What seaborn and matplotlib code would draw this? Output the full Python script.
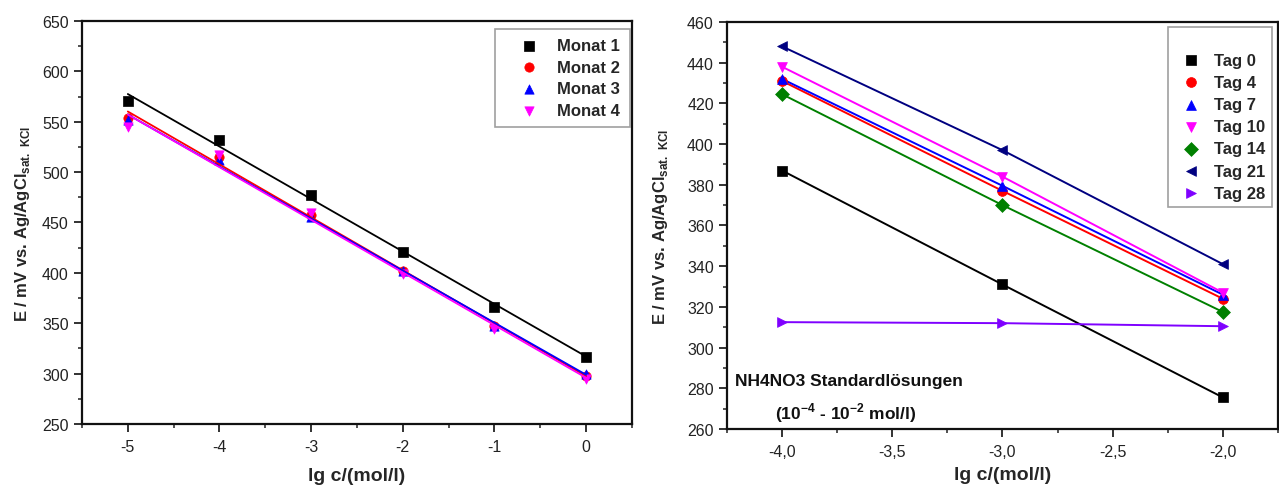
import numpy as np
import pandas as pd
import matplotlib
matplotlib.use("Agg")
import matplotlib.pyplot as plt
import seaborn as sns
from matplotlib.ticker import MultipleLocator

# ---------------- data: left panel ----------------
lg_c_left = [-5, -4, -3, -2, -1, 0]
monat_1 = [570.7, 531.7, 477.4, 421.2, 365.7, 316.8]
monat_2 = [554.0, 515.0, 457.0, 402.0, 347.0, 298.0]
monat_3 = [552.0, 512.0, 455.0, 402.0, 347.0, 300.0]
monat_4 = [545.0, 517.0, 459.0, 399.0, 344.0, 295.0]
monat_labels = ["Monat 1", "Monat 2", "Monat 3", "Monat 4"]
left_xticks = [-5, -4, -3, -2, -1, 0]
left_xticklabels = ["-5", "-4", "-3", "-2", "-1", "0"]
left_yticks = [250, 300, 350, 400, 450, 500, 550, 600, 650]

# ---------------- data: right panel ----------------
lg_c_right = [-4.0, -3.0, -2.0]
tag_0 = [387.0, 331.0, 275.5]
tag_4 = [431.0, 377.0, 324.0]
tag_7 = [432.0, 379.5, 326.0]
tag_10 = [438.0, 384.0, 327.0]
tag_14 = [424.5, 370.0, 317.5]
tag_21 = [448.0, 397.0, 341.0]
tag_28 = [312.5, 312.0, 310.5]
tag_labels = ["Tag 0", "Tag 4", "Tag 7", "Tag 10", "Tag 14", "Tag 21", "Tag 28"]
right_xticks = [-4.0, -3.5, -3.0, -2.5, -2.0]
right_xticklabels = ["-4,0", "-3,5", "-3,0", "-2,5", "-2,0"]
right_yticks = [260, 280, 300, 320, 340, 360, 380, 400, 420, 440, 460]

x_label = "lg c/(mol/l)"
y_label = r"E / mV vs. Ag/AgCl$_{\mathbf{sat.\ KCl}}$"
note_1 = "NH4NO3 Standardlösungen"
note_2 = r"(10$^{\mathbf{-4}}$ - 10$^{\mathbf{-2}}$ mol/l)"

# ---------------- style ----------------
sns.set_style("ticks")
plt.rcParams["font.family"] = ["Liberation Sans", "DejaVu Sans"]
plt.rcParams["mathtext.fontset"] = "custom"
plt.rcParams["mathtext.bf"] = "Liberation Sans:bold"
plt.rcParams["mathtext.rm"] = "Liberation Sans"
plt.rcParams["axes.unicode_minus"] = False

left_colors = ["#000000", "#ff0000", "#0000ff", "#ff00ff"]
left_markers = ["s", "o", "^", "v"]
right_colors = ["#000000", "#ff0000", "#0000ff", "#ff00ff", "#008000", "#000080", "#7f00ff"]
right_markers = ["s", "o", "^", "v", "D", "<", ">"]

fig = plt.figure(figsize=(12.79, 4.89), dpi=100)
ax1 = fig.add_axes([0.0641, 0.1309, 0.4300, 0.8241])
ax2 = fig.add_axes([0.5684, 0.1207, 0.4308, 0.8323])

tick_col = "#222222"


def style_axes(ax):
    for sp in ax.spines.values():
        sp.set_visible(True)
        sp.set_linewidth(1.6)
        sp.set_color("#111111")
    ax.tick_params(axis="both", which="major", direction="out", length=6, width=1.3,
                   labelsize=11.5, colors=tick_col, top=False, right=False)
    ax.tick_params(axis="x", which="major", pad=5)
    ax.tick_params(axis="y", which="major", pad=3.5)
    ax.tick_params(axis="both", which="minor", direction="out", length=3, width=1.1,
                   top=False, right=False, colors=tick_col)


# ---------------- left panel ----------------
left_df = pd.DataFrame({
    "x": lg_c_left * 4,
    "y": monat_1 + monat_2 + monat_3 + monat_4,
    "series": sum([[lab] * len(lg_c_left) for lab in monat_labels], []),
})
for lab, col, mk in zip(monat_labels, left_colors, left_markers):
    sub = left_df[left_df["series"] == lab]
    sns.scatterplot(data=sub, x="x", y="y", color=col, marker=mk, s=45,
                    edgecolor=col, linewidth=0.5, ax=ax1, label=lab, zorder=3)
for lab, col in zip(monat_labels, left_colors):
    sub = left_df[left_df["series"] == lab]
    sns.regplot(data=sub, x="x", y="y", ci=None, scatter=False, color=col,
                line_kws=dict(lw=1.3, zorder=4), ax=ax1, truncate=True)

ax1.set_xlim(-5.5, 0.5)
ax1.set_ylim(250, 650)
ax1.set_xticks(left_xticks)
ax1.set_xticklabels(left_xticklabels)
ax1.set_yticks(left_yticks)
ax1.xaxis.set_minor_locator(MultipleLocator(0.5))
ax1.yaxis.set_minor_locator(MultipleLocator(25))
style_axes(ax1)
ax1.set_xlabel(x_label, fontsize=14, fontweight="bold", labelpad=9)
ax1.set_ylabel(y_label, fontsize=12, fontweight="bold", labelpad=7)

h1, l1 = ax1.get_legend_handles_labels()
leg1 = ax1.legend(h1[:4], l1[:4], loc="upper left", bbox_to_anchor=(0.387, 0.939),
                  bbox_transform=fig.transFigure, frameon=True, fancybox=False,
                  edgecolor="#888888", prop=dict(weight="bold", size=12),
                  handlelength=3.0, handletextpad=0.2, labelspacing=0.4,
                  borderpad=0.55, borderaxespad=0)
leg1.get_frame().set_linewidth(1.2)

# ---------------- right panel ----------------
right_series = [tag_0, tag_4, tag_7, tag_10, tag_14, tag_21, tag_28]
right_df = pd.DataFrame({
    "x": lg_c_right * len(right_series),
    "y": sum(right_series, []),
    "series": sum([[lab] * len(lg_c_right) for lab in tag_labels], []),
})
for lab, col in zip(tag_labels, right_colors):
    sub = right_df[right_df["series"] == lab]
    sns.lineplot(data=sub, x="x", y="y", color=col, lw=1.4, ax=ax2, legend=False,
                 zorder=2)
for lab, col, mk in zip(tag_labels, right_colors, right_markers):
    sub = right_df[right_df["series"] == lab]
    sns.scatterplot(data=sub, x="x", y="y", color=col, marker=mk, s=50,
                    edgecolor=col, linewidth=0.5, ax=ax2, label=lab, zorder=3)

ax2.set_xlim(-4.25, -1.75)
ax2.set_ylim(260, 460)
ax2.set_xticks(right_xticks)
ax2.set_xticklabels(right_xticklabels)
ax2.set_yticks(right_yticks)
ax2.xaxis.set_minor_locator(MultipleLocator(0.25))
ax2.yaxis.set_minor_locator(MultipleLocator(10))
style_axes(ax2)
ax2.set_xlabel(x_label, fontsize=14, fontweight="bold", labelpad=5)
ax2.set_ylabel(y_label, fontsize=12, fontweight="bold", labelpad=12)

ax2.text(0.0145, 0.118, note_1, transform=ax2.transAxes, fontsize=12.5,
         fontweight="bold", color="#111111", ha="left", va="center")
ax2.text(0.216, 0.040, note_2, transform=ax2.transAxes, fontsize=12.5,
         fontweight="bold", color="#111111", ha="center", va="center")

h2, l2 = ax2.get_legend_handles_labels()
leg2 = ax2.legend(h2, l2, loc="upper left", bbox_to_anchor=(0.913, 0.943),
                  bbox_transform=fig.transFigure, frameon=True, fancybox=False,
                  edgecolor="#888888", prop=dict(weight="bold", size=12),
                  handlelength=2.0, handletextpad=0.4, labelspacing=0.43,
                  borderpad=0.4, borderaxespad=0, title=" ",
                  title_fontproperties=dict(size=9))
leg2.get_frame().set_linewidth(1.2)

fig.savefig("out.png", dpi=100)
